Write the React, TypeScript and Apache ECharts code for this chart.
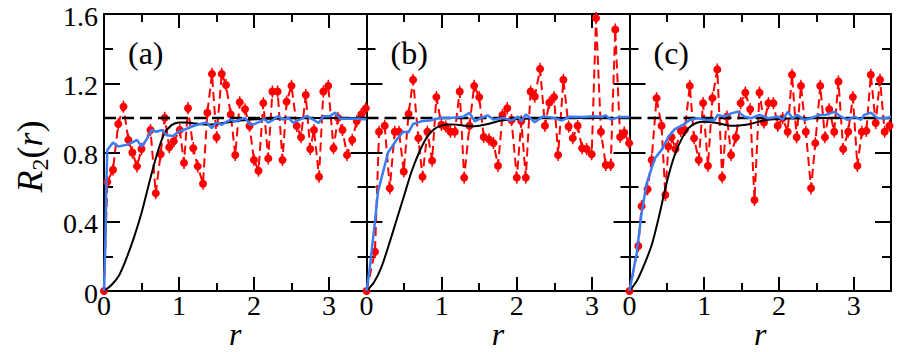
import React, { useEffect, useRef } from "react";
import * as echarts from "echarts";

type P = [number, number];

const PANEL_LABELS = ["(a)", "(b)", "(c)"];
const X_TICK_VALUES = [0, 1, 2, 3];
const X_TICK_LABELS = ["0", "1", "2", "3"];
const Y_TICK_VALUES = [0, 0.4, 0.8, 1.2, 1.6];
const Y_TICK_LABELS = ["0", "0.4", "0.8", "1.2", "1.6"];
const X_NAME = "r";
const REF_LINE: P[] = [[0, 1], [3.5, 1]];
const ERR = 0.035;

const RED_A: P[] = [
  [0, 0], [0.044, 0.63], [0.12, 0.70], [0.19, 0.965], [0.26, 1.065], [0.325, 0.873], [0.378, 0.80],
  [0.44, 0.72], [0.50, 0.82], [0.62, 0.93], [0.69, 0.565], [0.755, 0.79], [0.81, 1.0], [0.87, 0.83],
  [0.93, 0.865], [1.01, 0.93], [1.067, 0.74], [1.12, 1.056], [1.19, 0.825], [1.25, 0.72], [1.32, 0.62],
  [1.378, 1.03], [1.44, 1.254], [1.50, 0.888], [1.57, 1.254], [1.627, 1.19], [1.69, 1.02], [1.75, 0.786],
  [1.81, 1.09], [1.88, 1.05], [1.94, 0.953], [2.0, 0.757], [2.06, 0.695], [2.124, 1.085], [2.19, 0.766],
  [2.245, 1.152], [2.315, 1.152], [2.38, 0.757], [2.435, 1.094], [2.50, 1.185], [2.57, 0.953], [2.627, 0.888],
  [2.69, 1.132], [2.75, 0.82], [2.80, 0.93], [2.867, 0.66], [2.925, 1.152], [2.99, 1.185], [3.06, 0.825],
  [3.12, 1.0], [3.18, 0.93], [3.24, 0.786], [3.31, 0.873], [3.37, 0.98], [3.43, 1.02], [3.49, 1.055],
];
const BLUE_A: P[] = [
  [0, 0], [0.02, 0.3], [0.03, 0.6], [0.044, 0.815], [0.12, 0.858], [0.19, 0.835], [0.30, 0.844], [0.378, 0.858],
  [0.44, 0.873], [0.50, 0.835], [0.57, 0.877], [0.635, 0.93], [0.70, 0.92], [0.77, 0.93], [0.835, 0.90],
  [0.925, 0.895], [0.99, 0.92], [1.06, 0.93], [1.12, 0.94], [1.19, 0.953], [1.28, 0.965], [1.37, 0.973],
  [1.435, 0.94], [1.50, 0.973], [1.57, 0.96], [1.636, 0.978], [1.69, 0.99], [1.75, 0.978], [1.81, 0.99],
  [1.88, 1.0], [1.95, 0.96], [2.01, 0.965], [2.08, 0.978], [2.13, 0.995], [2.19, 0.973], [2.26, 0.99],
  [2.32, 1.01], [2.39, 0.99], [2.46, 1.0], [2.52, 0.973], [2.61, 0.99], [2.70, 1.01], [2.79, 0.99],
  [2.86, 0.97], [2.925, 1.01], [3.01, 1.01], [3.08, 1.03], [3.15, 0.995], [3.24, 0.995], [3.32, 0.995],
  [3.41, 0.995], [3.50, 0.99],
];
const BLACK_A: P[] = [
  [0, 0], [0.1, 0.035], [0.2, 0.09], [0.3, 0.19], [0.4, 0.31], [0.5, 0.45], [0.6, 0.62], [0.7, 0.78],
  [0.8, 0.905], [0.9, 0.958], [1.0, 0.974], [1.1, 0.974], [1.2, 0.968], [1.3, 0.963], [1.4, 0.962],
  [1.5, 0.965], [1.7, 0.978], [1.9, 0.988], [2.2, 0.995], [2.6, 1.0], [3.5, 1.0],
];

const RED_B: P[] = [
  [0, 0], [0.113, 0.227], [0.167, 0.92], [0.242, 0.954], [0.31, 0.594], [0.376, 0.92], [0.433, 0.92],
  [0.496, 0.69], [0.56, 1.023], [0.62, 1.22], [0.69, 0.883], [0.745, 0.66], [0.81, 0.92], [0.873, 0.753],
  [0.93, 1.12], [0.997, 0.96], [1.055, 0.95], [1.118, 0.92], [1.175, 0.92], [1.24, 1.152], [1.30, 0.655],
  [1.37, 0.954], [1.433, 1.185], [1.50, 1.12], [1.56, 0.89], [1.63, 0.876], [1.69, 0.854], [1.75, 0.723],
  [1.81, 1.017], [1.873, 1.056], [1.93, 0.988], [2.0, 0.655], [2.06, 0.98], [2.12, 0.655], [2.184, 1.152],
  [2.24, 1.123], [2.31, 1.283], [2.375, 0.954], [2.433, 1.088], [2.496, 1.12], [2.55, 0.786], [2.62, 1.22],
  [2.69, 0.95], [2.745, 0.883], [2.81, 0.954], [2.87, 0.825], [2.93, 0.82], [2.997, 0.79], [3.055, 1.576],
  [3.12, 0.92], [3.184, 0.728], [3.25, 0.728], [3.31, 1.51], [3.375, 0.89], [3.43, 0.915], [3.495, 0.854],
];
const BLUE_B: P[] = [
  [0, 0], [0.04, 0.12], [0.11, 0.39], [0.153, 0.574], [0.287, 0.80], [0.40, 0.873], [0.487, 0.92],
  [0.556, 0.915], [0.62, 0.965], [0.73, 0.98], [0.84, 0.985], [0.976, 0.999], [1.11, 0.999], [1.29, 1.007],
  [1.37, 1.03], [1.44, 0.98], [1.53, 1.0], [1.61, 1.015], [1.69, 0.99], [1.82, 1.0], [1.93, 0.985],
  [2.02, 1.007], [2.06, 0.98], [2.12, 1.02], [2.24, 0.975], [2.35, 1.01], [2.49, 1.0], [2.6, 0.985],
  [2.71, 1.007], [2.89, 1.005], [3.02, 1.01], [3.13, 1.005], [3.18, 1.015], [3.25, 0.99], [3.37, 1.005],
  [3.5, 1.005],
];
const BLACK_B: P[] = [
  [0, 0], [0.1, 0.05], [0.2, 0.14], [0.3, 0.27], [0.4, 0.41], [0.5, 0.55], [0.6, 0.69], [0.7, 0.80],
  [0.8, 0.885], [0.9, 0.935], [1.0, 0.955], [1.1, 0.962], [1.2, 0.961], [1.3, 0.955], [1.4, 0.951],
  [1.5, 0.955], [1.6, 0.963], [1.8, 0.985], [2.1, 0.995], [2.5, 1.0], [3.5, 1.0],
];

const RED_C: P[] = [
  [0, 0], [0.118, 0.26], [0.162, 0.49], [0.242, 0.588], [0.296, 0.757], [0.362, 1.114], [0.429, 0.954],
  [0.48, 0.555], [0.52, 0.834], [0.562, 0.888], [0.616, 0.82], [0.687, 0.925], [0.74, 0.93], [0.807, 1.185],
  [0.864, 0.882], [0.927, 0.757], [0.985, 1.085], [1.05, 0.723], [1.11, 1.114], [1.175, 1.28], [1.24, 0.657],
  [1.304, 1.007], [1.36, 0.786], [1.424, 0.888], [1.487, 1.085], [1.55, 1.146], [1.615, 1.05], [1.673, 0.526],
  [1.74, 1.146], [1.80, 0.973], [1.86, 1.085], [1.926, 1.085], [1.984, 0.954], [2.05, 0.998], [2.117, 0.92],
  [2.175, 1.249], [2.237, 0.888], [2.295, 1.185], [2.36, 0.92], [2.43, 0.593], [2.487, 0.854], [2.553, 1.185],
  [2.616, 0.888], [2.673, 1.05], [2.74, 0.92], [2.797, 1.21], [2.86, 0.82], [2.927, 0.92], [2.99, 1.12],
  [3.05, 0.723], [3.11, 0.92], [3.17, 0.925], [3.23, 1.249], [3.295, 0.97], [3.353, 1.22], [3.415, 0.92],
  [3.48, 0.954],
];
const BLUE_C: P[] = [
  [0, 0], [0.096, 0.218], [0.162, 0.45], [0.207, 0.565], [0.229, 0.62], [0.34, 0.767], [0.43, 0.815],
  [0.517, 0.888], [0.607, 0.935], [0.718, 0.96], [0.807, 0.988], [0.918, 0.998], [1.03, 0.988], [1.14, 0.988],
  [1.18, 1.017], [1.27, 1.007], [1.36, 1.026], [1.45, 1.035], [1.54, 1.007], [1.63, 0.998], [1.74, 1.017],
  [1.85, 0.998], [1.985, 1.007], [2.05, 0.99], [2.12, 1.035], [2.18, 0.998], [2.25, 1.017], [2.34, 0.988],
  [2.43, 0.998], [2.54, 1.017], [2.63, 1.017], [2.74, 1.035], [2.83, 1.007], [2.92, 0.988], [3.01, 1.007],
  [3.10, 0.988], [3.14, 1.017], [3.23, 1.03], [3.32, 0.998], [3.45, 0.998], [3.5, 1.007],
];
const BLACK_C: P[] = [
  [0, 0], [0.1, 0.06], [0.2, 0.155], [0.3, 0.27], [0.4, 0.44], [0.5, 0.63], [0.6, 0.78], [0.7, 0.88],
  [0.8, 0.945], [0.9, 0.972], [1.0, 0.978], [1.1, 0.975], [1.2, 0.968], [1.3, 0.958], [1.4, 0.954],
  [1.5, 0.957], [1.6, 0.963], [1.8, 0.985], [2.1, 0.996], [2.5, 1.0], [3.5, 1.0],
];

const PANELS = [
  { red: RED_A, blue: BLUE_A, black: BLACK_A },
  { red: RED_B, blue: BLUE_B, black: BLACK_B },
  { red: RED_C, blue: BLUE_C, black: BLACK_C },
];

const GRID_LEFTS = [104, 366.5, 629.5];
const GRID_WIDTHS = [262.5, 263, 261.5];
const GRID_TOP = 14;
const GRID_HEIGHT = 277;

const SERIF = "Times New Roman";
const RED = "#ff0000";
const BLUE = "#3c7cf2";

export default function App() {
  const ref = useRef<HTMLDivElement>(null);

  useEffect(() => {
    if (!ref.current) return;
    const chart = echarts.init(ref.current, undefined, { renderer: "svg" });

    const axisLine = { show: true, onZero: false, lineStyle: { color: "#000", width: 2 } };
    const xAxes: any[] = [];
    const yAxes: any[] = [];
    const series: any[] = [];
    const grids: any[] = [];

    PANELS.forEach((p, i) => {
      grids.push({ left: GRID_LEFTS[i], top: GRID_TOP, width: GRID_WIDTHS[i], height: GRID_HEIGHT, containLabel: false });
      const xBase = {
        type: "value",
        gridIndex: i,
        min: 0,
        max: 3.5,
        interval: 1,
        axisLine,
        splitLine: { show: false },
        axisLabel: { show: false },
        axisTick: { show: true, inside: true, length: 14, lineStyle: { color: "#000", width: 2 } },
        minorTick: { show: true, splitNumber: 2, length: 8, lineStyle: { color: "#000", width: 2 } },
      };
      xAxes.push({ ...xBase, position: "bottom" });
      xAxes.push({ ...xBase, position: "top" });

      const yBase = {
        type: "value",
        gridIndex: i,
        min: 0,
        max: 1.6,
        interval: 0.4,
        axisLine,
        splitLine: { show: false },
        axisLabel: { show: false },
        axisTick: { show: true, inside: true, length: 16, lineStyle: { color: "#000", width: 2 } },
        minorTick: { show: true, splitNumber: 2, length: 9, lineStyle: { color: "#000", width: 2 } },
      };
      yAxes.push({ ...yBase, position: "left" });
      yAxes.push({ ...yBase, position: "right" });

      const xi = 2 * i;
      const yi = 2 * i;
      series.push({
        type: "line",
        xAxisIndex: xi,
        yAxisIndex: yi,
        data: p.red,
        symbol: "circle",
        symbolSize: 8,
        itemStyle: { color: RED },
        lineStyle: { color: RED, width: 2, type: [9, 5] },
        z: 2,
      });
      series.push({
        type: "custom",
        xAxisIndex: xi,
        yAxisIndex: yi,
        data: p.red.slice(1),
        encode: { x: 0, y: 1 },
        renderItem: (_params: any, api: any) => {
          const x = api.value(0);
          const y = api.value(1);
          const a = api.coord([x, y - ERR]);
          const b = api.coord([x, y + ERR]);
          return {
            type: "line",
            shape: { x1: a[0], y1: a[1], x2: b[0], y2: b[1] },
            style: { stroke: RED, lineWidth: 1.5 },
          };
        },
        z: 2,
      });
      series.push({
        type: "line",
        xAxisIndex: xi,
        yAxisIndex: yi,
        data: REF_LINE,
        symbol: "none",
        lineStyle: { color: "#000", width: 2.5, type: [12, 6] },
        z: 3,
      });
      series.push({
        type: "line",
        xAxisIndex: xi,
        yAxisIndex: yi,
        data: p.black,
        symbol: "none",
        smooth: 0.3,
        lineStyle: { color: "#000", width: 2 },
        z: 4,
      });
      series.push({
        type: "line",
        xAxisIndex: xi,
        yAxisIndex: yi,
        data: p.blue,
        symbol: "none",
        lineStyle: { color: BLUE, width: 2.5 },
        z: 5,
      });
    });

    chart.setOption({
      animation: false,
      backgroundColor: "#fff",
      grid: grids,
      xAxis: xAxes,
      yAxis: yAxes,
      series,
    });

    // Tick labels and axis names placed through the library's own axis scales.
    const graphics: any[] = [];
    const textStyle = (text: string, size: number, extra: any = {}) => ({
      text,
      fill: "#000",
      fontFamily: SERIF,
      fontSize: size,
      ...extra,
    });

    PANELS.forEach((_p, i) => {
      const xi = 2 * i;
      const yi = 2 * i;
      const baseY = chart.convertToPixel({ yAxisIndex: yi }, 0) as number;
      const topY = chart.convertToPixel({ yAxisIndex: yi }, 1.6) as number;
      const leftX = chart.convertToPixel({ xAxisIndex: xi }, 0) as number;
      const rightX = chart.convertToPixel({ xAxisIndex: xi }, 3.5) as number;

      X_TICK_VALUES.forEach((v, k) => {
        const px = chart.convertToPixel({ xAxisIndex: xi }, v) as number;
        graphics.push({
          type: "text",
          x: px,
          y: baseY + 14,
          style: textStyle(X_TICK_LABELS[k], 28, { align: "center", verticalAlign: "middle" }),
        });
      });

      graphics.push({
        type: "text",
        x: (leftX + rightX) / 2,
        y: baseY + 43,
        style: textStyle(X_NAME, 32, { fontStyle: "italic", align: "center", verticalAlign: "middle" }),
      });

      graphics.push({
        type: "text",
        x: leftX + 24,
        y: topY + 39,
        style: textStyle(PANEL_LABELS[i], 32, { align: "left", verticalAlign: "middle" }),
      });

      if (i === 0) {
        Y_TICK_VALUES.forEach((v, k) => {
          const py = chart.convertToPixel({ yAxisIndex: yi }, v) as number;
          graphics.push({
            type: "text",
            x: leftX - 6,
            y: py + 2,
            style: textStyle(Y_TICK_LABELS[k], 28, { align: "right", verticalAlign: "middle" }),
          });
        });
        graphics.push({
          type: "text",
          x: 30,
          y: (baseY + topY) / 2 + 4,
          rotation: Math.PI / 2,
          style: {
            text: "{i|R}{s|2}{n|(}{i|r}{n|)}",
            align: "center",
            verticalAlign: "middle",
            fill: "#000",
            rich: {
              i: { fontFamily: SERIF, fontStyle: "italic", fontSize: 36, fill: "#000" },
              n: { fontFamily: SERIF, fontSize: 36, fill: "#000" },
              s: { fontFamily: SERIF, fontSize: 24, fill: "#000", padding: [20, 0, 0, 0] },
            },
          },
        });
      }
    });

    chart.setOption({ graphic: graphics });

    return () => chart.dispose();
  }, []);

  return (
    <div
      ref={ref}
      style={{ position: "fixed", left: 0, top: 0, width: 897, height: 352, background: "#fff" }}
    />
  );
}
